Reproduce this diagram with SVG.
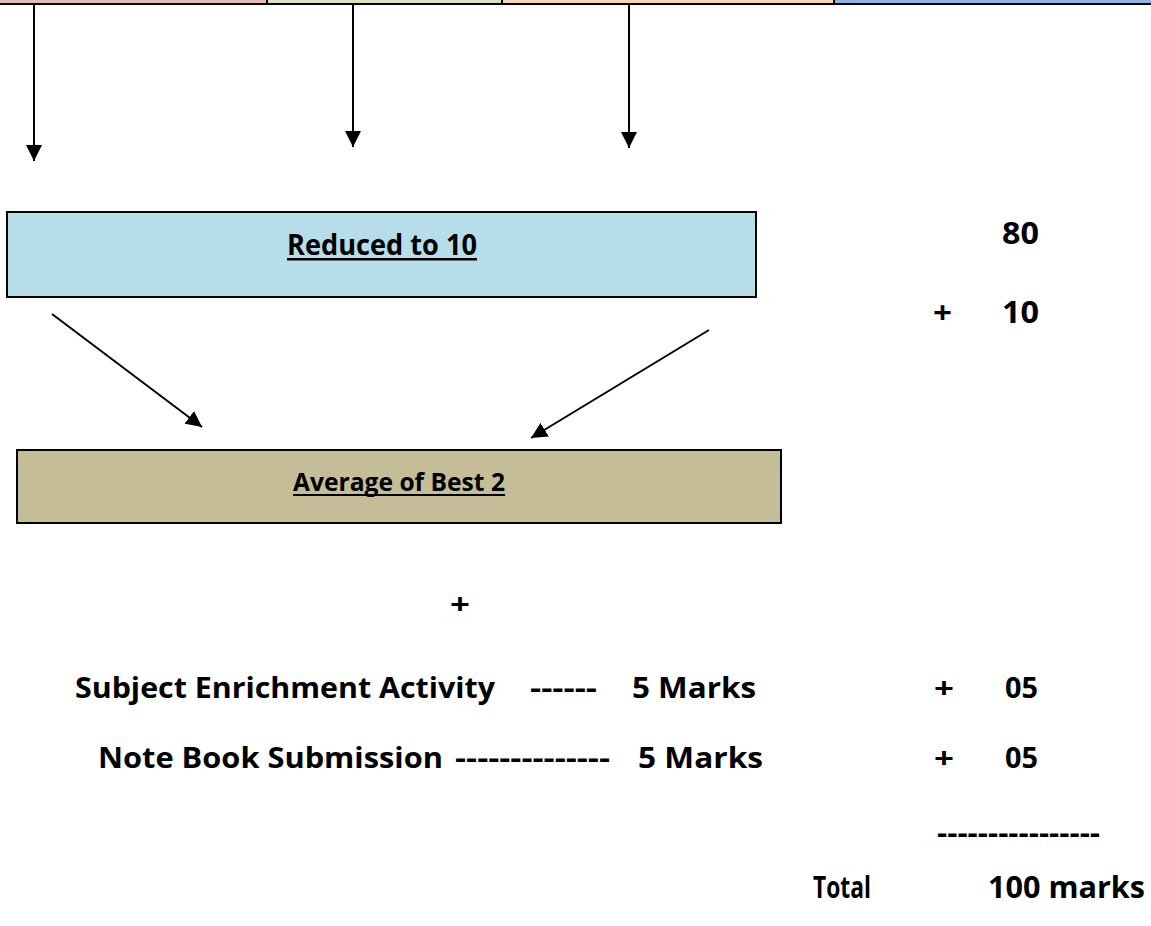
<svg xmlns="http://www.w3.org/2000/svg" width="1151" height="926" viewBox="0 0 1151 926">
<style>
  .t { font-family: "Open Sans", "Liberation Sans", sans-serif; font-weight: 700; fill: #000; }
  .box { stroke: #000; stroke-width: 2; }
  .ln { stroke: #000; stroke-width: 2; fill: none; marker-end: url(#ah); }
</style>
<defs>
  <marker id="ah" markerUnits="userSpaceOnUse" markerWidth="16" markerHeight="16" viewBox="0 0 16 16" refX="16" refY="8" orient="auto">
    <path d="M0,0 L16,8 L0,16 Z" fill="#000"/>
  </marker>
</defs>
<rect width="1151" height="926" fill="#fff"/>
<g id="topbar">
  <rect x="0" y="0" width="267" height="4" fill="#e6b8b7"/>
  <rect x="267" y="0" width="235" height="4" fill="#d7e4bc"/>
  <rect x="502" y="0" width="332" height="4" fill="#fbd4b4"/>
  <rect x="834" y="0" width="317" height="4" fill="#8eb4e3"/>
  <rect x="0" y="3" width="1151" height="2" fill="#000"/>
  <rect x="266" y="0" width="2" height="4" fill="#000"/>
  <rect x="501" y="0" width="2" height="4" fill="#000"/>
  <rect x="833" y="0" width="2" height="4" fill="#000"/>
</g>
<g id="connectors">
  <line class="ln" x1="34" y1="5" x2="34" y2="161"/>
  <line class="ln" x1="353" y1="5" x2="353" y2="147"/>
  <line class="ln" x1="629" y1="5" x2="629" y2="148"/>
  <line class="ln" x1="52" y1="314" x2="202" y2="427"/>
  <line class="ln" x1="709" y1="330" x2="531" y2="438"/>
</g>
<g id="reduced">
  <rect class="box" x="7" y="212" width="749" height="85" fill="#b7dde8"/>
  <text class="t" x="287" y="255" font-size="29" textLength="190" lengthAdjust="spacingAndGlyphs">Reduced to 10</text>
  <rect x="287" y="258" width="190" height="2.5" fill="#000"/>
</g>
<g id="average">
  <rect class="box" x="17" y="450" width="764" height="73" fill="#c4bd97"/>
  <text class="t" x="293" y="491" font-size="25" textLength="212" lengthAdjust="spacingAndGlyphs">Average of Best 2</text>
  <rect x="293" y="494" width="212" height="2" fill="#000"/>
</g>
<g id="marks-right">
  <text class="t" x="1002" y="244" font-size="30" textLength="37" lengthAdjust="spacingAndGlyphs">80</text>
  <text class="t" x="933" y="323" font-size="30" textLength="19" lengthAdjust="spacingAndGlyphs">+</text>
  <text class="t" x="1002" y="323" font-size="30" textLength="37" lengthAdjust="spacingAndGlyphs">10</text>
</g>
<g id="plus-middle">
  <text class="t" x="450" y="614" font-size="28" textLength="20" lengthAdjust="spacingAndGlyphs">+</text>
</g>
<g id="row-sea">
  <text class="t" x="75" y="698" font-size="29" textLength="420" lengthAdjust="spacingAndGlyphs">Subject Enrichment Activity</text>
  <text class="t" x="530" y="698" font-size="29" textLength="67" lengthAdjust="spacingAndGlyphs">------</text>
  <text class="t" x="632" y="698" font-size="29" textLength="124" lengthAdjust="spacingAndGlyphs">5 Marks</text>
  <text class="t" x="934" y="698" font-size="29" textLength="20" lengthAdjust="spacingAndGlyphs">+</text>
  <text class="t" x="1005" y="698" font-size="29" textLength="33" lengthAdjust="spacingAndGlyphs">05</text>
</g>
<g id="row-nb">
  <text class="t" x="98" y="768" font-size="29" textLength="345" lengthAdjust="spacingAndGlyphs">Note Book Submission</text>
  <text class="t" x="455" y="768" font-size="29" textLength="155" lengthAdjust="spacingAndGlyphs">--------------</text>
  <text class="t" x="638" y="768" font-size="29" textLength="125" lengthAdjust="spacingAndGlyphs">5 Marks</text>
  <text class="t" x="934" y="768" font-size="29" textLength="20" lengthAdjust="spacingAndGlyphs">+</text>
  <text class="t" x="1005" y="768" font-size="29" textLength="33" lengthAdjust="spacingAndGlyphs">05</text>
</g>
<g id="total">
  <text class="t" x="937" y="843" font-size="28" textLength="163" lengthAdjust="spacingAndGlyphs">----------------</text>
  <text class="t" x="813" y="898" font-size="30" textLength="58" lengthAdjust="spacingAndGlyphs">Total</text>
  <text class="t" x="988" y="898" font-size="30" textLength="157" lengthAdjust="spacingAndGlyphs">100 marks</text>
</g>
</svg>
